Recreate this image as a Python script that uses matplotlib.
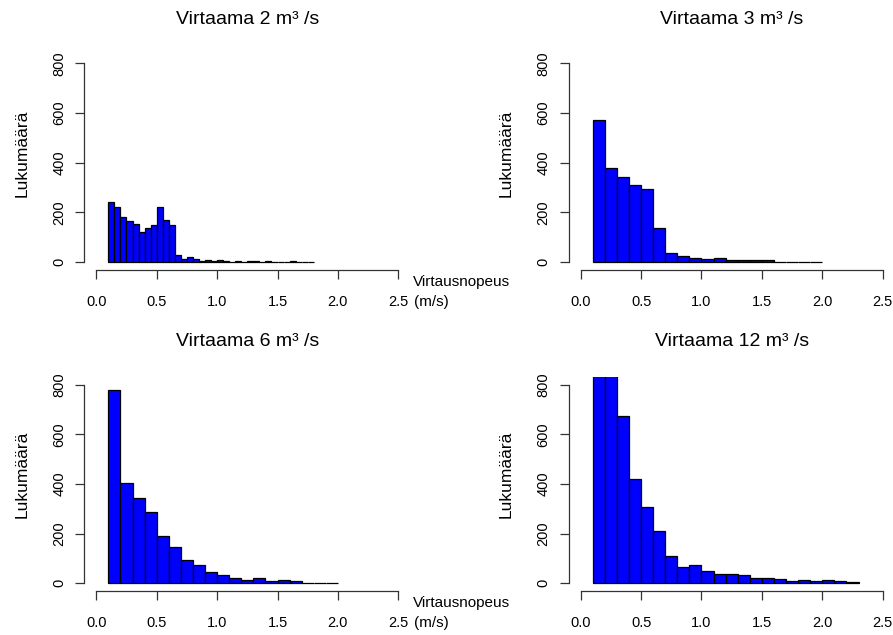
import numpy as np
import matplotlib
matplotlib.use("Agg")
import matplotlib.pyplot as plt

plt.rcParams['font.family'] = ['Liberation Sans', 'DejaVu Sans']

# ---- data ----
titles = ['Virtaama 2 m³ /s', 'Virtaama 3 m³ /s',
          'Virtaama 6 m³ /s', 'Virtaama 12 m³ /s']

bins_2 = (0.1, 1.8, 0.05)
counts_2 = [240, 220, 183, 164, 155, 121, 136, 150, 220, 170, 151,
            27, 13, 19, 13, 6, 9, 4, 9, 4, 2, 5, 2, 5, 5, 2, 5,
            0, 0, 0, 6, 0, 0, 0]

bins_3 = (0.1, 2.0, 0.1)
counts_3 = [570, 380, 343, 311, 296, 138, 35, 23, 17, 13, 18,
            7, 7, 7, 7, 2, 0, 0, 0]

bins_6 = (0.1, 2.0, 0.1)
counts_6 = [780, 402, 343, 286, 192, 148, 92, 72, 46, 34, 21,
            15, 21, 11, 15, 8, 2, 1, 1]

bins_12 = (0.1, 2.3, 0.1)
counts_12 = [1050, 1000, 672, 420, 307, 212, 109, 66, 75, 48, 37,
             37, 32, 23, 23, 17, 9, 15, 9, 15, 9, 4]

x_ticks = [0.0, 0.5, 1.0, 1.5, 2.0, 2.5]
x_ticklabels = ['0.0', '0.5', '1.0', '1.5', '2.0', '2.5']
y_ticks = [0, 200, 400, 600, 800]
y_label = 'Lukumäärä'
x_label_1 = 'Virtausnopeus'
x_label_2 = '(m/s)'

panels = [(bins_2, counts_2), (bins_3, counts_3), (bins_6, counts_6), (bins_12, counts_12)]

# ---- layout (pixels) ----
W, H = 893, 635
fig = plt.figure(figsize=(W / 100, H / 100), dpi=100)

def fx(x):
    return x / W

def fy(y):
    return 1 - y / H

lefts = [84.2, 568.6]
width = 326.2
tops = [55.35, 376.6]
height = 214.65

for i, ((b0, b1, bw), counts) in enumerate(panels):
    col = i % 2
    row = i // 2
    L = lefts[col]
    T = tops[row]
    ax = fig.add_axes([fx(L), fy(T + height), width / W, height / H])
    edges = np.round(np.arange(b0, b1 + bw / 2, bw), 4)
    ax.bar(edges[:-1], counts, width=bw, align='edge', color='#0000FF',
           edgecolor='black', linewidth=0.9)
    ax.set_xlim(-0.1, 2.6)
    ax.set_ylim(-32, 832)
    for s in ['top', 'right']:
        ax.spines[s].set_visible(False)
    ax.spines['left'].set_bounds(0, 800)
    ax.spines['bottom'].set_bounds(0, 2.5)
    for s in ['left', 'bottom']:
        ax.spines[s].set_color('#333333')
        ax.spines[s].set_linewidth(0.9)
    ax.set_xticks(x_ticks)
    ax.set_xticklabels(x_ticklabels)
    ax.set_yticks(y_ticks)
    ax.set_yticklabels([str(v) for v in y_ticks], rotation=90, va='center')
    ax.tick_params(axis='x', length=6.5, width=0.9, color='#333333',
                   pad=11.5, labelsize=10.5)
    ax.tick_params(axis='y', length=6.5, width=0.9, color='#333333',
                   pad=6.5, labelsize=10.5)
    ax.patch.set_alpha(0)

    cx = L + width / 2
    fig.text(fx(cx), fy(T - 35.5), titles[i], ha='center', va='center', fontsize=14)
    fig.text(fx(L - 62), fy(T + 97.5), y_label, rotation=90, ha='center',
             va='center', fontsize=12.5)
    if col == 0:
        fig.text(fx(413), fy(T + 226.3), x_label_1, ha='left', va='center', fontsize=11)
        fig.text(fx(414), fy(T + 246.5), x_label_2, ha='left', va='center', fontsize=11)

fig.savefig('out.png', dpi=100)
